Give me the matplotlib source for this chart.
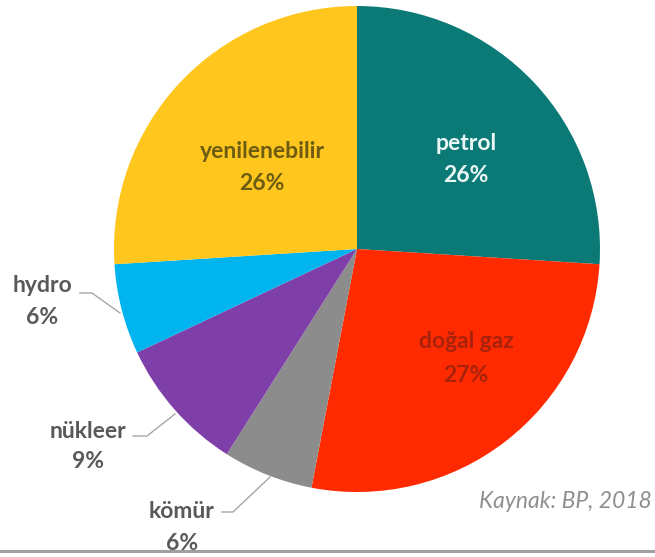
import matplotlib
matplotlib.use("Agg")
import matplotlib.pyplot as plt

categories = ["petrol", "doğal gaz", "kömür", "nükleer", "hydro", "yenilenebilir"]
shares = [26, 27, 6, 9, 6, 26]
colors = ["#0b7a76", "#ff2a00", "#8c8c8c", "#7f3fa8", "#00b4f0", "#ffc61e"]

W, H = 655, 557
fig = plt.figure(figsize=(W / 100, H / 100), dpi=100)
ax = fig.add_axes([0, 0, 1, 1])

def P(x, y):
    return x, H - y

cx, cy = P(357, 249)
ax.pie(shares, colors=colors, startangle=90, counterclock=False,
       center=(cx, cy), radius=243, frame=True,
       wedgeprops=dict(linewidth=0))
ax.set_xlim(0, W)
ax.set_ylim(0, H)
ax.set_aspect("equal")
ax.axis("off")

font = "Lato"
fs = 16.5

# inside labels: (index, x, y1, y2, color)
inside = [
    (0, 466, 144, 176, "#eaf6f6"),
    (1, 466, 342, 375, "#a8220c"),
    (5, 262, 152, 183, "#6e5c12"),
]
for i, x, y1, y2, c in inside:
    ax.text(*P(x, y1), categories[i], ha="center", va="center", fontsize=fs,
            fontweight="bold", color=c, family=font)
    ax.text(*P(x, y2), f"{shares[i]}%", ha="center", va="center", fontsize=fs,
            fontweight="bold", color=c, family=font)

# outside labels with leader lines
outside = [
    (4, 42, 286, 318, [(80, 293), (92, 293), (120, 313)]),
    (3, 88, 431, 462, [(133, 436), (147, 436), (175, 414)]),
    (2, 182, 512, 544, [(222, 512), (233, 512), (270, 477)]),
]
for i, x, y1, y2, pts in outside:
    ax.text(*P(x, y1), categories[i], ha="center", va="center", fontsize=fs,
            fontweight="bold", color="#595959", family=font)
    ax.text(*P(x, y2), f"{shares[i]}%", ha="center", va="center", fontsize=fs,
            fontweight="bold", color="#595959", family=font)
    xs = [p[0] for p in pts]
    ys = [H - p[1] for p in pts]
    ax.plot(xs, ys, color="#a6a6a6", linewidth=1.0)

ax.text(*P(652, 502), "Kaynak: BP, 2018", ha="right", va="center", fontsize=16.5,
        style="italic", color="#8f8f8f", family=font)

ax.plot([0, W], [H - 551, H - 551], color="#a0a0a0", linewidth=2.2)

fig.savefig("out.png", dpi=100)
